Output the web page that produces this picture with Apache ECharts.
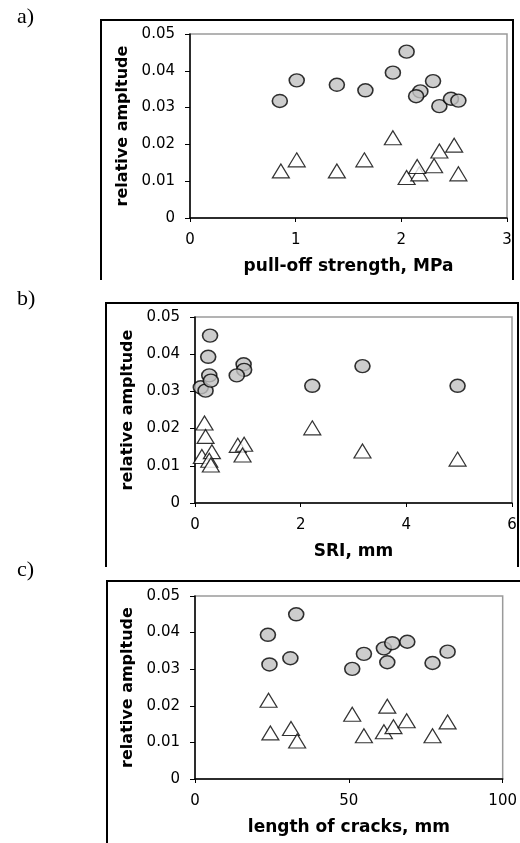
<!DOCTYPE html>
<html>
<head>
<meta charset="utf-8">
<script src="https://cdn.jsdelivr.net/npm/echarts@6/dist/echarts.min.js"></script>
<style>
  html, body { margin: 0; padding: 0; background: #fff; }
  #chart { width: 520px; height: 843px; }
</style>
</head>
<body>
<div id="chart"></div>
<script>
// Panel a: pull-off strength (MPa) vs relative amplitude
const strengthRound = [0.85, 1.01, 1.39, 1.66, 1.92, 2.05, 2.18, 2.14, 2.30, 2.36, 2.47, 2.54];
const amplitudeRoundA = [0.0318, 0.0374, 0.0362, 0.0347, 0.0395, 0.0452, 0.0344, 0.0331, 0.0372, 0.0304, 0.0324, 0.0319];
const strengthTri = [0.86, 1.01, 1.39, 1.65, 1.92, 2.05, 2.17, 2.15, 2.31, 2.36, 2.50, 2.54];
const amplitudeTriA = [0.0128, 0.0158, 0.0128, 0.0158, 0.0218, 0.0110, 0.0120, 0.0140, 0.0142, 0.0182, 0.0198, 0.0120];

// Panel b: SRI (mm) vs relative amplitude
const sriRound = [0.285, 0.25, 0.11, 0.20, 0.27, 0.30, 0.92, 0.93, 0.79, 2.22, 3.17, 4.97];
const amplitudeRoundB = [0.0450, 0.0393, 0.0311, 0.0302, 0.0343, 0.0329, 0.0373, 0.0358, 0.0343, 0.0315, 0.0368, 0.0315];
const sriTri = [0.18, 0.20, 0.13, 0.32, 0.27, 0.30, 0.81, 0.93, 0.90, 2.22, 3.17, 4.97];
const amplitudeTriB = [0.0215, 0.0179, 0.0125, 0.0138, 0.0115, 0.0102, 0.0155, 0.0158, 0.0129, 0.0202, 0.0140, 0.0118];

// Panel c: length of cracks (mm) vs relative amplitude
const crackRound = [23.7, 24.2, 32.9, 31.0, 51.1, 54.9, 61.4, 62.5, 64.1, 69.0, 77.2, 82.1];
const amplitudeRoundC = [0.0394, 0.0313, 0.0450, 0.0330, 0.0301, 0.0342, 0.0357, 0.0319, 0.0371, 0.0375, 0.0317, 0.0348];
const crackTri = [23.9, 24.5, 31.2, 33.2, 51.1, 54.9, 61.4, 62.5, 64.5, 68.8, 77.2, 82.1];
const amplitudeTriC = [0.0215, 0.0126, 0.0138, 0.0104, 0.0177, 0.0118, 0.0129, 0.0199, 0.0143, 0.0159, 0.0118, 0.0156];

// Axis settings per panel
const xNames = ['pull-off strength, MPa', 'SRI, mm', 'length of cracks, mm'];
const xMax = [3, 6, 100];
const xStep = [1, 2, 50];
const yName = 'relative ampltude';
const yMax = 0.05;
const yStep = 0.01;
const panelTags = ['a)', 'b)', 'c)'];

const pairs = (xs, ys) => xs.map((x, i) => [x, ys[i]]);

const FONT = 'DejaVu Sans';

const grids = [
  { left: 190, top: 34, width: 317, height: 184 },
  { left: 195, top: 317, width: 317, height: 186 },
  { left: 195, top: 596, width: 308, height: 183 }
].map(g => Object.assign(g, { show: true, borderColor: '#9a9a9a', borderWidth: 1.5, backgroundColor: 'transparent' }));

const axisLineStyle = { show: true, onZero: false, lineStyle: { color: '#000', width: 1.5 } };

const xAxes = xNames.map((name, i) => ({
  type: 'value', gridIndex: i, min: 0, max: xMax[i], interval: xStep[i],
  name: name, nameLocation: 'middle', nameGap: 40,
  nameTextStyle: { fontFamily: FONT, fontWeight: 'bold', fontSize: 17, color: '#000' },
  axisLine: axisLineStyle,
  axisTick: { show: true, length: 4, lineStyle: { color: '#000', width: 1 } },
  axisLabel: { fontFamily: FONT, fontSize: 15, color: '#000', margin: 15 },
  splitLine: { show: false }
}));

const yAxes = [0, 1, 2].map(i => ({
  type: 'value', gridIndex: i, min: 0, max: yMax, interval: yStep,
  name: yName, nameLocation: 'middle', nameGap: 58,
  nameTextStyle: { fontFamily: FONT, fontWeight: 'bold', fontSize: 16, color: '#000' },
  axisLine: axisLineStyle,
  axisTick: { show: true, length: 5, lineStyle: { color: '#000', width: 1 } },
  axisLabel: { fontFamily: FONT, fontSize: 15, color: '#000', margin: 15,
    formatter: v => (v === 0 ? '0' : v.toFixed(2)) },
  splitLine: { show: false }
}));

const roundStyle = { color: '#c0c0c0', borderColor: '#000', borderWidth: 1.5 };
const triStyle = { color: '#fff', borderColor: '#000', borderWidth: 1.2 };

const rounds = [pairs(strengthRound, amplitudeRoundA), pairs(sriRound, amplitudeRoundB), pairs(crackRound, amplitudeRoundC)];
const tris = [pairs(strengthTri, amplitudeTriA), pairs(sriTri, amplitudeTriB), pairs(crackTri, amplitudeTriC)];

const series = [];
[0, 1, 2].forEach(i => {
  series.push({ type: 'scatter', xAxisIndex: i, yAxisIndex: i, data: tris[i],
    symbol: 'triangle', symbolSize: [17, 14], itemStyle: triStyle, silent: true });
  series.push({ type: 'scatter', xAxisIndex: i, yAxisIndex: i, data: rounds[i],
    symbol: 'circle', symbolSize: [15, 13], itemStyle: roundStyle, silent: true });
});

// Panel frames (open at the bottom) and panel tags
const frames = [
  [[101, 280], [101, 20], [513, 20], [513, 280]],
  [[106, 567], [106, 303], [518, 303], [518, 567]],
  [[107, 843], [107, 581], [521, 581]]
];
const tagY = [19, 301, 572];

const graphic = frames.map(pts => ({
  type: 'polyline', shape: { points: pts }, style: { stroke: '#000', lineWidth: 2, fill: null }, z: 10
})).concat(panelTags.map((t, i) => ({
  type: 'text', left: 17, top: tagY[i] - 13,
  style: { text: t, font: '22px "Liberation Serif"', fill: '#000' }, z: 10
})));

const chart = echarts.init(document.getElementById('chart'), null, { renderer: 'canvas' });
chart.setOption({
  animation: false,
  backgroundColor: '#fff',
  grid: grids,
  xAxis: xAxes,
  yAxis: yAxes,
  series: series,
  graphic: graphic
});
</script>
</body>
</html>
